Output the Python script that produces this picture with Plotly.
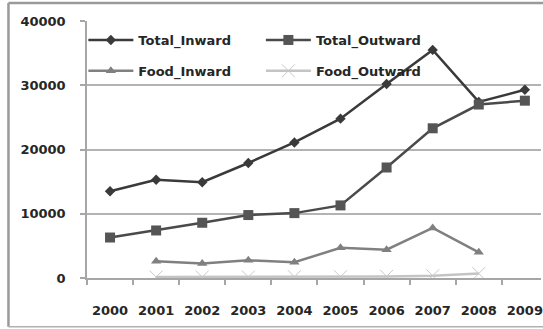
import plotly.graph_objects as go

years = ["2000", "2001", "2002", "2003", "2004", "2005", "2006", "2007", "2008", "2009"]
total_inward = [13500, 15300, 14900, 17900, 21100, 24800, 30200, 35500, 27400, 29300]
total_outward = [6300, 7400, 8600, 9800, 10100, 11300, 17200, 23300, 27000, 27600]
food_years = ["2001", "2002", "2003", "2004", "2005", "2006", "2007", "2008"]
food_inward = [2600, 2250, 2750, 2450, 4700, 4400, 7800, 4000]
food_outward = [150, 150, 150, 200, 200, 250, 350, 700]
y_ticks = [0, 10000, 20000, 30000, 40000]

FONT = dict(family="DejaVu Sans", size=13, color="#262626", weight="bold")

fig = go.Figure()
fig.add_trace(go.Scatter(x=years, y=total_inward, name="Total_Inward", mode="lines+markers",
                         line=dict(color="#3a3a3a", width=2.5),
                         marker=dict(symbol="diamond", size=8, color="#3a3a3a"),
                         legend="legend", showlegend=True))
fig.add_trace(go.Scatter(x=years, y=total_outward, name="Total_Outward", mode="lines+markers",
                         line=dict(color="#4a4a4a", width=2.5),
                         marker=dict(symbol="square", size=10, color="#555555"),
                         legend="legend2", showlegend=True))
fig.add_trace(go.Scatter(x=food_years, y=food_inward, name="Food_Inward", mode="lines+markers",
                         line=dict(color="#808080", width=2.5),
                         marker=dict(symbol="triangle-up", size=9, color="#808080"),
                         legend="legend3", showlegend=True))
fig.add_trace(go.Scatter(x=food_years, y=food_outward, name="Food_Outward", mode="lines+markers",
                         line=dict(color="#c4c4c4", width=2.5),
                         marker=dict(symbol="x-thin", size=13, color="#c4c4c4",
                                     line=dict(color="#c8c8c8", width=1)),
                         legend="legend4", showlegend=True))

legend_common = dict(orientation="h", xanchor="left", yanchor="middle", font=FONT,
                     bgcolor="rgba(0,0,0,0)", borderwidth=0, itemwidth=45)

fig.update_layout(
    width=543, height=329,
    showlegend=True,
    margin=dict(l=87, r=0, t=21, b=51),
    paper_bgcolor="white", plot_bgcolor="white",
    font=FONT,
    legend=dict(x=-0.008, y=0.926, **legend_common),
    legend2=dict(x=0.383, y=0.926, **legend_common),
    legend3=dict(x=-0.008, y=0.806, **legend_common),
    legend4=dict(x=0.383, y=0.806, **legend_common),
    xaxis=dict(type="category", categoryorder="array", categoryarray=years,
               range=[-0.5, 9.35], showgrid=False, showline=True, linecolor="#a6a6a6", linewidth=1.5,
               ticks="outside", tickson="boundaries", ticklen=5, tickcolor="#a6a6a6", tickwidth=1.5,
               ticklabelstandoff=20, tickfont=FONT, zeroline=False),
    yaxis=dict(range=[0, 40000], tickvals=y_ticks, ticktext=[str(v) for v in y_ticks],
               showgrid=True, gridcolor="#b3b3b3", gridwidth=1.5, zeroline=False,
               showline=True, linecolor="#a6a6a6", linewidth=1.5,
               ticks="outside", ticklen=5, tickcolor="#a6a6a6", tickwidth=1.5,
               ticklabelstandoff=12, tickfont=FONT),
    shapes=[
        dict(type="line", xref="paper", yref="paper", x0=-0.173, x1=1.2, y0=1.07, y1=1.07,
             line=dict(color="#9a9a9a", width=2.5)),
        dict(type="line", xref="paper", yref="paper", x0=-0.173, x1=-0.173, y0=1.07, y1=-0.19,
             line=dict(color="#9a9a9a", width=2.5)),
        dict(type="line", xref="paper", yref="paper", x0=-0.173, x1=1.2, y0=-0.19, y1=-0.19,
             line=dict(color="#b0b0b0", width=1.5)),
    ],
)

fig.write_html("out.html")
